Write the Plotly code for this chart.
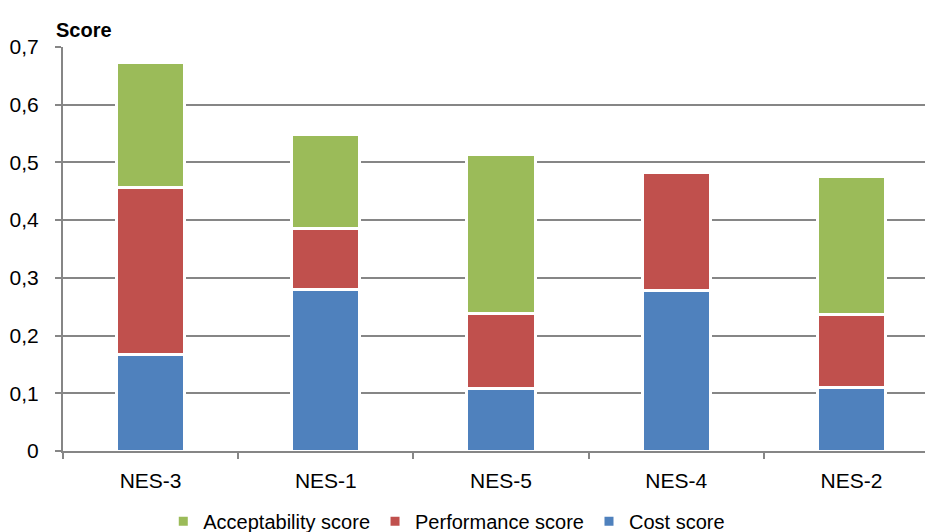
import plotly.graph_objects as go

# Composite scores per scenario, stacked bottom to top
categories = ["NES-3", "NES-1", "NES-5", "NES-4", "NES-2"]
cost_score = [0.168, 0.279, 0.109, 0.278, 0.110]
performance_score = [0.289, 0.106, 0.130, 0.204, 0.127]
acceptability_score = [0.217, 0.164, 0.275, 0.0, 0.239]

y_tick_values = [0, 0.1, 0.2, 0.3, 0.4, 0.5, 0.6, 0.7]
y_tick_labels = ["0", "0,1", "0,2", "0,3", "0,4", "0,5", "0,6", "0,7"]

FONT = "Liberation Sans, Arial, sans-serif"
GRID = "#868686"

fig = go.Figure()
series = [
    ("Cost score", cost_score, "#4F81BD"),
    ("Performance score", performance_score, "#C0504D"),
    ("Acceptability score", acceptability_score, "#9BBB59"),
]
for name, vals, color in series:
    fig.add_trace(go.Bar(
        x=categories, y=vals, name=name,
        marker=dict(color=color, line=dict(color="white", width=3)),
        width=0.39,
    ))

fig.update_layout(
    barmode="stack",
    width=925, height=532,
    margin=dict(l=63, r=0, t=47, b=81, autoexpand=False),
    paper_bgcolor="white", plot_bgcolor="white",
    font=dict(family=FONT, size=21, color="#000000"),
    showlegend=True,
    legend=dict(
        orientation="h", traceorder="reversed",
        xref="container", x=0.483, xanchor="center",
        yref="container", y=0.02, yanchor="middle",
        font=dict(family=FONT, size=20),
        itemwidth=30,
    ),
    annotations=[dict(
        text="<b>Score</b>", xref="paper", yref="paper",
        x=-0.01, y=1.0, xanchor="left", yanchor="bottom", yshift=4,
        showarrow=False, font=dict(family=FONT, size=20),
    )],
)

# The category axis runs slightly past the right edge of the canvas
fig.update_xaxes(
    range=[-0.5, 4.42],
    showline=True, linecolor=GRID, linewidth=2,
    ticks="outside", tickson="boundaries", ticklen=6, tickcolor=GRID, tickwidth=2,
    showgrid=False, tickfont=dict(size=21), ticklabelstandoff=10, automargin=False,
)
fig.update_yaxes(
    range=[0, 0.7], tickvals=y_tick_values, ticktext=y_tick_labels,
    showline=True, linecolor=GRID, linewidth=2,
    ticks="outside", ticklen=6, tickcolor=GRID, tickwidth=2,
    showgrid=True, gridcolor=GRID, gridwidth=2, zeroline=False,
    tickfont=dict(size=21), ticklabelstandoff=12, automargin=False,
)

fig.write_html("out.html")
